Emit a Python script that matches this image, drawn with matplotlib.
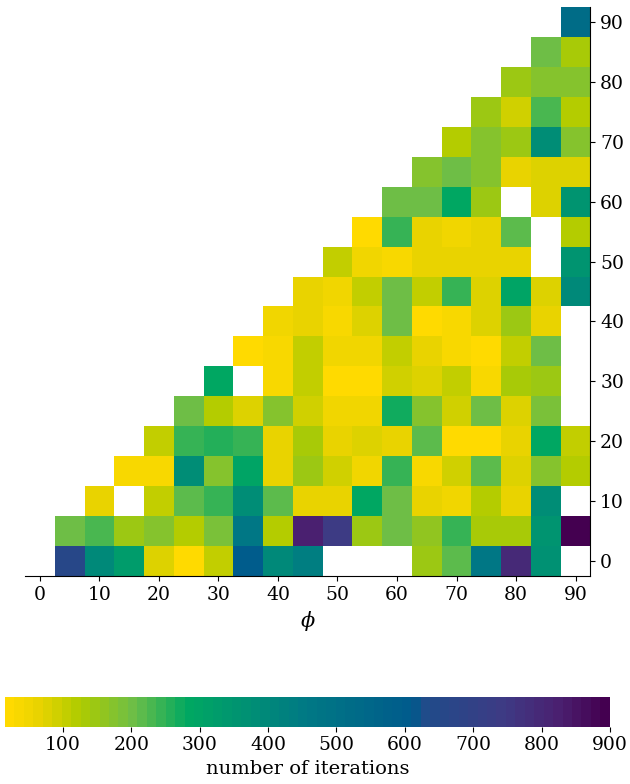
import numpy as np
import matplotlib
matplotlib.use("Agg")
import matplotlib.pyplot as plt
from matplotlib.colors import LinearSegmentedColormap

plt.rcParams['font.family'] = ['DejaVu Serif']
plt.rcParams['mathtext.fontset'] = 'dejavuserif'

nan = np.nan
phi = np.arange(0, 95, 5)
theta = np.arange(0, 95, 5)

# iterations per (theta row, phi column); nan = no result / outside triangle
row_0  = [nan, 660, 390, 330, 75, 25, 110, 600, 400, 430, nan, nan, nan, 150, 220, 460, 790, 370, nan]
row_5  = [nan, 200, 225, 150, 178, 120, 185, 460, 120, 820, 740, 150, 200, 155, 245, 128, 135, 360, 890]
row_10 = [nan, nan, 60, nan, 105, 222, 238, 385, 220, 68, 62, 290, 195, 60, 55, 120, 65, 380, nan]
row_15 = [nan, nan, nan, 35, 35, 380, 175, 300, 65, 140, 95, 50, 240, 30, 88, 220, 80, 175, 115]
row_20 = [nan, nan, nan, nan, 100, 240, 255, 240, 62, 130, 68, 84, 62, 210, 25, 25, 60, 285, 105]
row_25 = [nan, nan, nan, nan, nan, 195, 120, 75, 170, 90, 55, 50, 265, 175, 92, 205, 78, 185, nan]
row_30 = [nan, nan, nan, nan, nan, nan, 290, nan, 38, 110, 15, 20, 95, 82, 100, 40, 135, 140, nan]
row_35 = [nan, nan, nan, nan, nan, nan, nan, 25, 40, 105, 50, 52, 105, 65, 35, 25, 108, 205, nan]
row_40 = [nan, nan, nan, nan, nan, nan, nan, nan, 50, 68, 40, 78, 200, 20, 35, 82, 150, 60, nan]
row_45 = [nan, nan, nan, nan, nan, nan, nan, nan, nan, 65, 50, 110, 200, 100, 245, 75, 300, 75, 400]
row_50 = [nan, nan, nan, nan, nan, nan, nan, nan, nan, nan, 100, 50, 40, 62, 60, 60, 62, nan, 350]
row_55 = [nan, nan, nan, nan, nan, nan, nan, nan, nan, nan, nan, 25, 245, 65, 45, 60, 215, nan, 115]
row_60 = [nan, nan, nan, nan, nan, nan, nan, nan, nan, nan, nan, nan, 205, 200, 280, 150, nan, 75, 350]
row_65 = [nan, nan, nan, nan, nan, nan, nan, nan, nan, nan, nan, nan, nan, 175, 195, 175, 65, 75, 75]
row_70 = [nan, nan, nan, nan, nan, nan, nan, nan, nan, nan, nan, nan, nan, nan, 120, 170, 150, 380, 175]
row_75 = [nan, nan, nan, nan, nan, nan, nan, nan, nan, nan, nan, nan, nan, nan, nan, 150, 85, 225, 115]
row_80 = [nan, nan, nan, nan, nan, nan, nan, nan, nan, nan, nan, nan, nan, nan, nan, nan, 150, 170, 170]
row_85 = [nan, nan, nan, nan, nan, nan, nan, nan, nan, nan, nan, nan, nan, nan, nan, nan, nan, 200, 130]
row_90 = [nan, nan, nan, nan, nan, nan, nan, nan, nan, nan, nan, nan, nan, nan, nan, nan, nan, nan, 520]

iters = np.array([row_0, row_5, row_10, row_15, row_20, row_25, row_30, row_35, row_40,
                  row_45, row_50, row_55, row_60, row_65, row_70, row_75, row_80, row_85, row_90])

vmin, vmax = 15, 900
cb_ticks = [100, 200, 300, 400, 500, 600, 700, 800, 900]

# colour map
nodes = [(15, '#FFDA00'), (60, '#E8D300'), (120, '#AECB00'), (200, '#6CBE48'),
         (280, '#00A862'), (450, '#007A84'), (615, '#005A8C'), (630, '#1F4C8A'),
         (750, '#3E3A84'), (830, '#4A2070'), (900, '#440050')]
cmap = LinearSegmentedColormap.from_list(
    'iters', [((v - vmin) / (vmax - vmin), c) for v, c in nodes], N=64)
cmap.set_bad('white')

fig = plt.figure(figsize=(6.3, 7.84), dpi=100)
ax = fig.add_axes([0.0397, 0.2653, 0.8975, 0.7258])
mesh = ax.pcolormesh(phi, theta, np.ma.masked_invalid(iters), cmap=cmap,
                     vmin=vmin, vmax=vmax, shading='nearest')
ax.set_xlim(-2.5, 92.5)
ax.set_ylim(-2.5, 92.5)
ax.set_xticks(np.arange(0, 100, 10))
ax.set_yticks(np.arange(0, 100, 10))
ax.spines['left'].set_visible(False)
ax.spines['top'].set_visible(False)
ax.yaxis.tick_right()
ax.yaxis.set_label_position('right')
ax.tick_params(labelsize=13.5)
ax.set_xlabel(r'$\phi$', fontsize=15, labelpad=4)
ax.set_ylabel(r'$\theta$', fontsize=15, rotation=0, labelpad=14)

cax = fig.add_axes([0.008, 0.073, 0.960, 0.038])
cb = fig.colorbar(mesh, cax=cax, orientation='horizontal', ticks=cb_ticks)
cb.outline.set_visible(False)
cb.ax.tick_params(labelsize=13.5)
cb.set_label('number of iterations', fontsize=14)

fig.savefig('out.png', dpi=100)
